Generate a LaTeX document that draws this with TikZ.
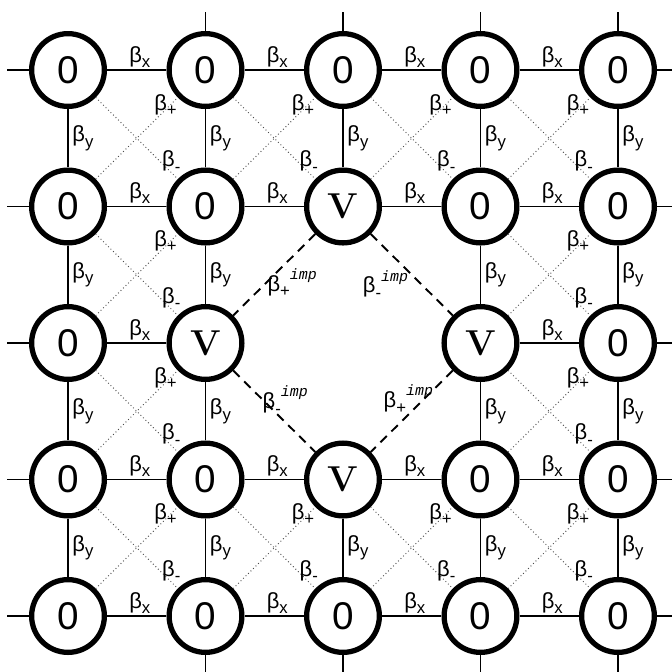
\documentclass[tikz,border=0pt]{standalone}
\usepackage{fontspec}
\usetikzlibrary{matrix}
\newfontfamily\sitefont{Liberation Sans}
\newfontfamily\impfont{Liberation Mono}
\newcommand{\bsub}[1]{β\raisebox{-0.45ex}{\fontsize{9.5}{9.5}\selectfont #1}}
\newcommand{\bimp}[1]{β\raisebox{-0.5ex}{\fontsize{9.5}{9.5}\selectfont #1}\raisebox{1ex}{\impfont\itshape\fontsize{8.5}{8.5}\selectfont imp}}

\begin{document}
\begin{tikzpicture}[
    site/.style={circle, draw, line width=3pt, minimum size=1.455cm, inner sep=0pt, anchor=center, font=\sitefont\fontsize{22}{22}\selectfont},
    vac/.style={site, font=\fontsize{20.5}{20.5}\selectfont\bfseries},
    bond/.style={line width=1.1pt},
    diag/.style={line width=0.55pt, black!70, dash pattern=on 0.5pt off 1.5pt},
    imp/.style={line width=1.1pt, dash pattern=on 0.18cm off 0.13cm},
    lab/.style={font=\sitefont\fontsize{12.5}{12.5}\selectfont, inner sep=1pt, text=black}
  ]
    \useasboundingbox (0,0) rectangle (13.44,-13.44);

    \matrix[row sep={2.73cm,between origins}, column sep={2.75cm,between origins}] at (6.86,-6.86) {
      \node[site] (s11) {0}; & \node[site] (s12) {0}; & \node[site] (s13) {0}; & \node[site] (s14) {0}; & \node[site] (s15) {0}; \\
      \node[site] (s21) {0}; & \node[site] (s22) {0}; & \node[vac] (s23) {V}; & \node[site] (s24) {0}; & \node[site] (s25) {0}; \\
      \node[site] (s31) {0}; & \node[vac] (s32) {V}; & & \node[vac] (s34) {V}; & \node[site] (s35) {0}; \\
      \node[site] (s41) {0}; & \node[site] (s42) {0}; & \node[vac] (s43) {V}; & \node[site] (s44) {0}; & \node[site] (s45) {0}; \\
      \node[site] (s51) {0}; & \node[site] (s52) {0}; & \node[site] (s53) {0}; & \node[site] (s54) {0}; & \node[site] (s55) {0}; \\
    };

    \foreach \r in {1,2,4,5}
      \foreach \c in {1,...,4} {
        \pgfmathtruncatemacro\cc{\c+1}
        \draw[bond] (s\r\c) -- node[lab, above, xshift=0.06cm] {\bsub{x}} (s\r\cc);
      }
    \foreach \a/\b in {s31/s32, s34/s35}
      \draw[bond] (\a) -- node[lab, above, xshift=0.06cm] {\bsub{x}} (\b);

    \foreach \c in {1,2,4,5}
      \foreach \r in {1,...,4} {
        \pgfmathtruncatemacro\rr{\r+1}
        \draw[bond] (s\r\c) -- node[lab, right, inner sep=2pt] {\bsub{y}} (s\rr\c);
      }
    \foreach \a/\b in {s13/s23, s43/s53}
      \draw[bond] (\a) -- node[lab, right, inner sep=2pt] {\bsub{y}} (\b);

    \foreach \r/\c in {1/1,1/2,1/3,1/4,2/1,2/4,3/1,3/4,4/1,4/2,4/3,4/4} {
      \pgfmathtruncatemacro\rr{\r+1}
      \pgfmathtruncatemacro\cc{\c+1}
      \draw[diag] (s\rr\c) -- node[lab, pos=.85, yshift=0.1cm] {\bsub{+}} (s\r\cc);
      \draw[diag] (s\r\c) -- node[lab, pos=.92, yshift=0.22cm] {\bsub{-}} (s\rr\cc);
    }

    \draw[imp] (s23) -- node[lab, pos=.44, xshift=0.26cm, yshift=-0.26cm] {\bimp{+}} (s32);
    \draw[imp] (s23) -- node[lab, pos=.40, xshift=-0.36cm, yshift=-0.36cm] {\bimp{-}} (s34);
    \draw[imp] (s32) -- node[lab, pos=.50, xshift=0.22cm, yshift=0.22cm] {\bimp{-}} (s43);
    \draw[imp] (s34) -- node[lab, pos=.45, xshift=-0.15cm, yshift=0.16cm] {\bimp{+}} (s43);

    \foreach \c in {2,...,5} {
      \path (s1\c) ++(0,1.16) coordinate (top\c);
      \path (s5\c) ++(0,-1.2) coordinate (bot\c);
      \draw[bond] (s1\c) -- (top\c);
      \draw[bond] (s5\c) -- (bot\c);
    }
    \foreach \r in {1,...,5} {
      \path (s\r1) ++(-1.22,0) coordinate (left\r);
      \path (s\r5) ++(1.1,0) coordinate (right\r);
      \draw[bond] (s\r1) -- (left\r);
      \draw[bond] (s\r5) -- (right\r);
    }

  \end{tikzpicture}
\end{document}
